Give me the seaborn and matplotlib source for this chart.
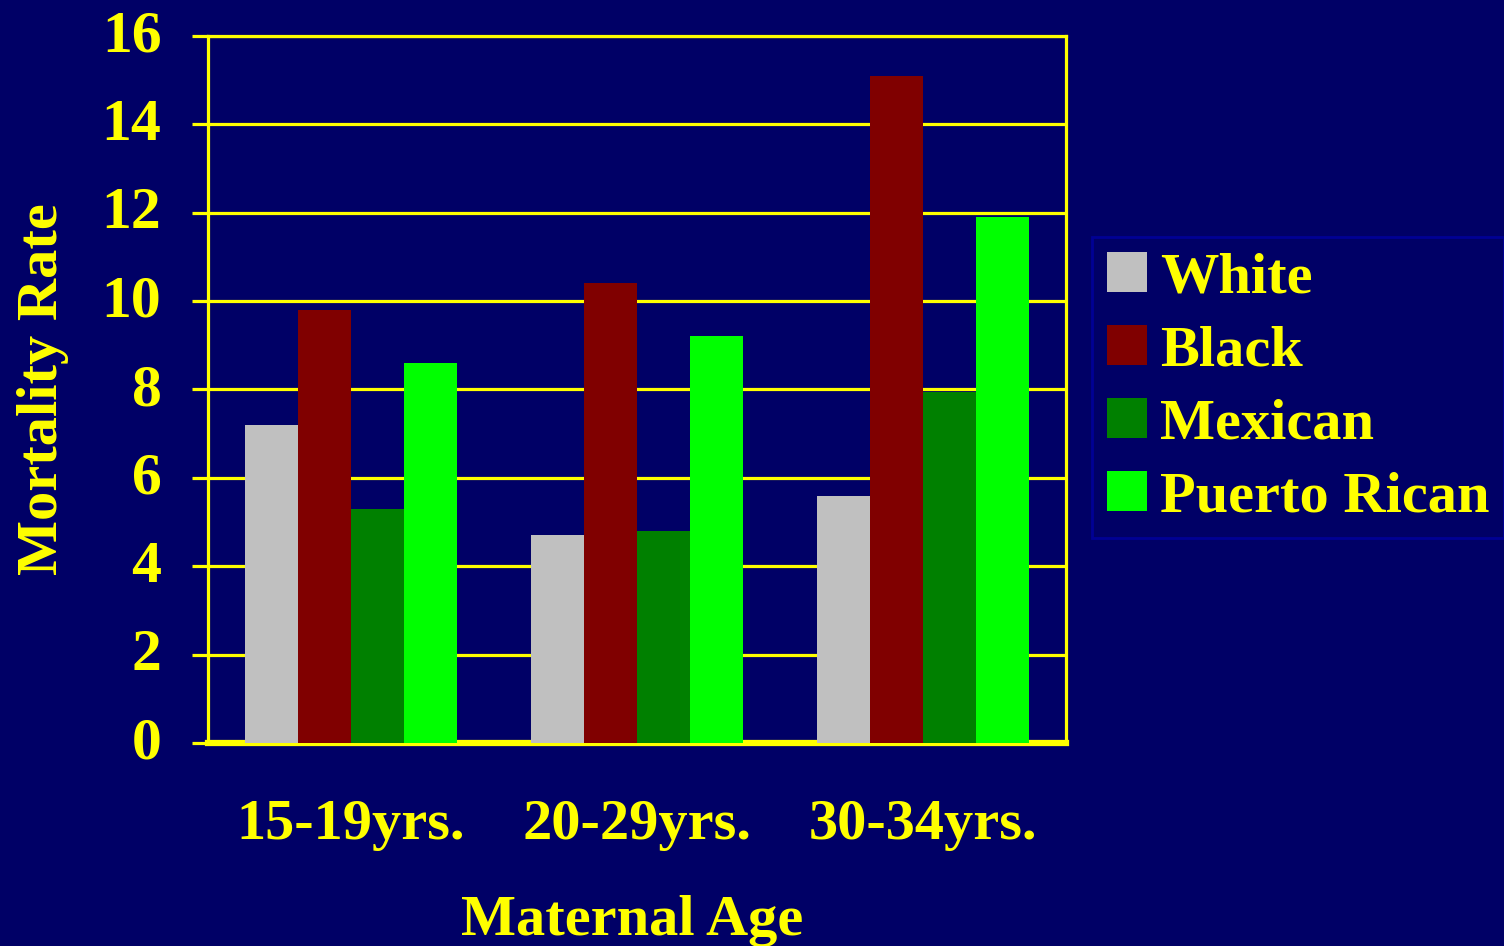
import matplotlib
matplotlib.use("Agg")
import matplotlib.pyplot as plt
import matplotlib.transforms as mtransforms
import seaborn as sns
import pandas as pd

# Infant mortality rate by maternal age and ethnicity
age_groups = ["15-19yrs.", "20-29yrs.", "30-34yrs."]
ethnicities = ["White", "Black", "Mexican", "Puerto Rican"]
white = [7.2, 4.7, 5.6]
black = [9.8, 10.4, 15.1]
mexican = [5.3, 4.8, 7.95]
puerto_rican = [8.6, 9.2, 11.9]
y_ticks = [0, 2, 4, 6, 8, 10, 12, 14, 16]

colors = ["#C0C0C0", "#800000", "#008000", "#00FF00"]
navy = "#000066"
yellow = "#FFFF00"

rows = []
for name, vals in zip(ethnicities, [white, black, mexican, puerto_rican]):
    for age, v in zip(age_groups, vals):
        rows.append({"age": age, "group": name, "rate": v})
df = pd.DataFrame(rows)

sns.set_theme(style="white")
plt.rcParams["font.family"] = ["Liberation Serif", "DejaVu Serif"]
plt.rcParams["font.weight"] = "bold"

fig = plt.figure(figsize=(15.04, 9.46), dpi=100, facecolor=navy)
ax = fig.add_axes([208 / 1504, 1 - 743 / 946, (1066 - 208) / 1504, (743 - 36) / 946])
ax.set_facecolor(navy)

sns.barplot(data=df, x="age", y="rate", hue="group", order=age_groups,
            hue_order=ethnicities, palette=colors, saturation=1,
            width=0.74, errorbar=None, linewidth=0, ax=ax)
for bar in ax.patches:
    bar.set_zorder(3)

ax.set_ylim(0, 16)
ax.set_xlim(-0.5, 2.5)
ax.set_yticks(y_ticks)
ax.set_yticklabels([str(t) for t in y_ticks])
ax.set_axisbelow(True)
ax.yaxis.grid(True, color=yellow, linewidth=2.3)
ax.xaxis.grid(False)

for side in ["left", "right", "top"]:
    ax.spines[side].set_visible(True)
    ax.spines[side].set_color(yellow)
    ax.spines[side].set_linewidth(2.3)
ax.spines["bottom"].set_color(yellow)
ax.spines["bottom"].set_linewidth(4.5)

ax.tick_params(axis="y", direction="out", length=11.5, width=2.3, color=yellow,
               labelcolor=yellow, labelsize=43, pad=22, left=True)
ax.tick_params(axis="x", length=0, labelcolor=yellow, labelsize=42, pad=40)
# nudge the value labels up so the digits sit centred on their gridlines
lift = mtransforms.ScaledTranslation(0, 5 / 100, fig.dpi_scale_trans)
for lbl in ax.get_yticklabels():
    lbl.set_fontweight("bold")
    lbl.set_transform(lbl.get_transform() + lift)
for lbl in ax.get_xticklabels():
    lbl.set_fontweight("bold")

ax.set_xlabel("Maternal Age", color=yellow, fontsize=42, fontweight="bold")
ax.set_ylabel("Mortality Rate", color=yellow, fontsize=42, fontweight="bold")
ax.xaxis.set_label_coords(0.494, -0.215)
ax.yaxis.set_label_coords(-0.162, 0.5)

leg = ax.legend(loc="upper left", bbox_to_anchor=(1092 / 1504, 1 - 237 / 946),
                bbox_transform=fig.transFigure, frameon=True, fancybox=False,
                fontsize=42, handlelength=0.69, handleheight=0.69,
                handletextpad=0.22, labelspacing=0.35, borderpad=0.25,
                borderaxespad=0)
leg.get_frame().set_facecolor(navy)
leg.get_frame().set_edgecolor("#0000A0")
leg.get_frame().set_linewidth(2)
for t in leg.get_texts():
    t.set_color(yellow)
    t.set_fontweight("bold")

fig.savefig("out.png", dpi=100, facecolor=navy)
